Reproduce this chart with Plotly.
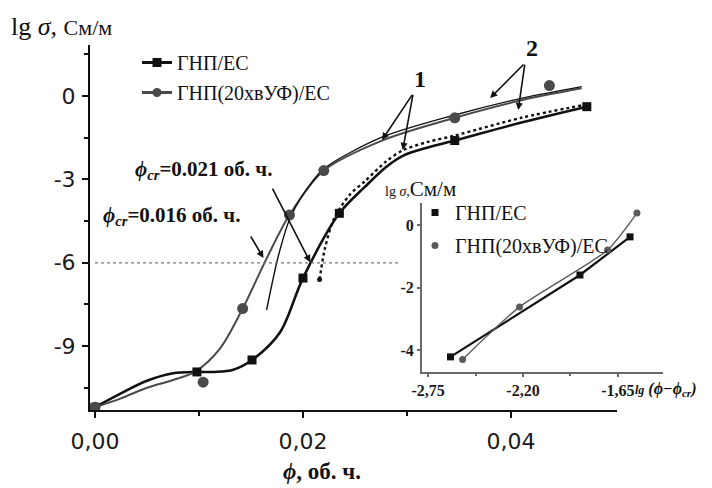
import plotly.graph_objects as go

W, H = 712, 488

# ---- main panel: lg(conductivity) vs filler volume fraction ----
# measured points, ГНП/ЕС
phi_gnp = [0.0, 0.0098, 0.0151, 0.0200, 0.0235, 0.0346, 0.0473]
lg_gnp = [-11.2, -9.93, -9.5, -6.55, -4.22, -1.6, -0.38]
# measured points, ГНП(20хвУФ)/ЕС
phi_uv = [0.0, 0.0104, 0.0142, 0.0187, 0.0220, 0.0346, 0.0437]
lg_uv = [-11.2, -10.3, -7.65, -4.28, -2.68, -0.78, 0.38]

# smoothed experimental curves
curve_gnp_x = [0.0, 0.0025, 0.005, 0.0075, 0.0098, 0.0115, 0.0133, 0.0151,
               0.0178, 0.0200, 0.0235, 0.0260, 0.0280, 0.0296, 0.0320, 0.0346, 0.0410, 0.0473]
curve_gnp_y = [-11.2, -10.7, -10.25, -9.98, -9.93, -9.93, -9.85, -9.5,
               -8.5, -6.55, -4.22, -3.25, -2.55, -2.15, -1.85, -1.6, -0.95, -0.38]
curve_uv_x = [0.0, 0.0025, 0.005, 0.0075, 0.0096, 0.0120, 0.0142, 0.0165,
              0.0187, 0.0220, 0.0276, 0.0346, 0.0410, 0.0468]
curve_uv_y = [-11.2, -10.88, -10.5, -10.22, -9.93, -9.1, -7.65, -5.85,
              -4.28, -2.68, -1.6, -0.78, -0.15, 0.28]

# percolation-law fits above the threshold
fit_uv_x = [0.0165, 0.0170, 0.0176, 0.0187, 0.0200, 0.0220, 0.0276, 0.0346, 0.0410, 0.0468]
fit_uv_y = [-7.7, -6.8, -5.8, -4.45, -3.55, -2.62, -1.48, -0.68, -0.08, 0.34]
fit_gnp_x = [0.0216, 0.0221, 0.0230, 0.0245, 0.0260, 0.0280, 0.0296, 0.0320, 0.0346, 0.0410, 0.0470]
fit_gnp_y = [-6.6, -5.5, -4.4, -3.55, -3.05, -2.35, -1.95, -1.65, -1.42, -0.78, -0.32]

threshold_level = -6
threshold_end = 0.0293

x_ticks = [0.0, 0.02, 0.04]
x_ticktext = ["0,00", "0,02", "0,04"]
x_minor = [0.01, 0.03]
y_ticks = [0, -3, -6, -9]
y_ticktext = ["0", "-3", "-6", "-9"]
y_minor = [1.5, -1.5, -4.5, -7.5, -10.5]

# ---- inset: lg(sigma) vs lg(phi - phi_cr) ----
ins_gnp_x = [-2.62, -1.87, -1.58]
ins_gnp_y = [-4.22, -1.6, -0.38]
ins_uv_x = [-2.55, -2.22, -1.71, -1.54]
ins_uv_y = [-4.3, -2.62, -0.8, 0.38]
ins_x_ticks = [-2.75, -2.20, -1.65]
ins_x_ticktext = ["-2,75", "-2,20", "-1,65"]
ins_y_ticks = [0, -2, -4]
ins_y_ticktext = ["0", "-2", "-4"]

names = ["ГНП/ЕС", "ГНП(20хвУФ)/ЕС"]
BLACK = "#111111"
GREY = "#4a4a4a"
SERIF = "Liberation Serif"


def px_x(p):
    return p / W


def px_y(p):
    return 1 - p / H


fig = go.Figure()

# experimental curves
fig.add_trace(go.Scatter(x=curve_gnp_x, y=curve_gnp_y, mode="lines",
                         line=dict(color=BLACK, width=2.6, shape="spline", smoothing=0.9),
                         showlegend=False, hoverinfo="skip"))
fig.add_trace(go.Scatter(x=curve_uv_x, y=curve_uv_y, mode="lines",
                         line=dict(color=GREY, width=2.0, shape="spline", smoothing=0.9),
                         showlegend=False, hoverinfo="skip"))
# fits
fig.add_trace(go.Scatter(x=fit_uv_x, y=fit_uv_y, mode="lines",
                         line=dict(color=BLACK, width=1.4, shape="spline", smoothing=0.8),
                         showlegend=False, hoverinfo="skip"))
fig.add_trace(go.Scatter(x=fit_gnp_x, y=fit_gnp_y, mode="lines",
                         line=dict(color=BLACK, width=2.4, dash="dot", shape="spline", smoothing=0.8),
                         showlegend=False, hoverinfo="skip"))
fig.add_trace(go.Scatter(x=fit_gnp_x[:1], y=fit_gnp_y[:1], mode="markers",
                         marker=dict(color=BLACK, size=5, symbol="circle"),
                         showlegend=False, hoverinfo="skip"))

# measured points
fig.add_trace(go.Scatter(x=phi_gnp, y=lg_gnp, mode="markers",
                         marker=dict(color=BLACK, size=9, symbol="square"),
                         showlegend=False))
fig.add_trace(go.Scatter(x=phi_uv, y=lg_uv, mode="markers",
                         marker=dict(color=GREY, size=11, symbol="circle"),
                         showlegend=False))

# legend entries for the main panel
fig.add_trace(go.Scatter(x=[None], y=[None], mode="lines+markers", name=names[0],
                         line=dict(color=BLACK, width=3),
                         marker=dict(color=BLACK, size=9, symbol="square"),
                         legend="legend", legendgroup="m1"))
fig.add_trace(go.Scatter(x=[None], y=[None], mode="lines+markers", name=names[1],
                         line=dict(color=GREY, width=3),
                         marker=dict(color=GREY, size=9, symbol="circle"),
                         legend="legend", legendgroup="m2"))

# inset traces
fig.add_trace(go.Scatter(x=ins_gnp_x, y=ins_gnp_y, mode="lines",
                         line=dict(color=BLACK, width=2.2),
                         xaxis="x2", yaxis="y2", showlegend=False, hoverinfo="skip"))
fig.add_trace(go.Scatter(x=ins_uv_x, y=ins_uv_y, mode="lines",
                         line=dict(color="#5a5a5a", width=1.4, shape="spline", smoothing=0.6),
                         xaxis="x2", yaxis="y2", showlegend=False, hoverinfo="skip"))
fig.add_trace(go.Scatter(x=ins_gnp_x, y=ins_gnp_y, mode="markers", name=names[0],
                         marker=dict(color=BLACK, size=7, symbol="square"),
                         xaxis="x2", yaxis="y2", legend="legend2", legendgroup="i1"))
fig.add_trace(go.Scatter(x=ins_uv_x, y=ins_uv_y, mode="markers", name=names[1],
                         marker=dict(color="#5a5a5a", size=7, symbol="circle"),
                         xaxis="x2", yaxis="y2", legend="legend2", legendgroup="i2"))

# percolation level
fig.add_shape(type="line", xref="x", yref="y", x0=0, x1=threshold_end,
              y0=threshold_level, y1=threshold_level,
              line=dict(color="#777777", width=1.2, dash="dot"))

tick_main = dict(family="DejaVu Sans", size=22, color="#1a1a1a")
tick_ins = dict(family=SERIF, size=16, color="#1a1a1a", weight="bold")

fig.update_layout(
    width=W, height=H,
    margin=dict(l=0, r=0, t=0, b=0),
    paper_bgcolor="white", plot_bgcolor="white",
    xaxis=dict(domain=[px_x(90), px_x(617)], range=[-0.00048, 0.0502], anchor="y",
               showline=True, linewidth=2, linecolor=BLACK, mirror=False,
               ticks="outside", ticklen=6, tickwidth=2, tickcolor=BLACK,
               tickvals=x_ticks, ticktext=x_ticktext, tickfont=tick_main,
               ticklabelstandoff=5,
               minor=dict(tickvals=x_minor, ticks="outside", ticklen=4, tickwidth=2, tickcolor=BLACK),
               showgrid=False, zeroline=False, automargin=False),
    yaxis=dict(domain=[px_y(410), px_y(45)], range=[-11.3, 1.84], anchor="x",
               showline=True, linewidth=2, linecolor=BLACK,
               ticks="outside", ticklen=6, tickwidth=2, tickcolor=BLACK,
               tickvals=y_ticks, ticktext=y_ticktext, tickfont=tick_main,
               ticklabelstandoff=2,
               minor=dict(tickvals=y_minor, ticks="outside", ticklen=4, tickwidth=2, tickcolor=BLACK),
               showgrid=False, zeroline=False, automargin=False),
    xaxis2=dict(domain=[px_x(422), px_x(663)], range=[-2.785, -1.389], anchor="y2",
                showline=True, linewidth=2, linecolor="#6a6a6a",
                ticks="outside", ticklen=3, tickwidth=1.5, tickcolor="#6a6a6a",
                tickvals=ins_x_ticks, ticktext=ins_x_ticktext, tickfont=tick_ins,
                ticklabelstandoff=0,
                minor=dict(tickvals=[-2.475, -1.925], ticks="outside", ticklen=2, tickcolor="#6a6a6a"),
                showgrid=False, zeroline=False, automargin=False),
    yaxis2=dict(domain=[px_y(372), px_y(203)], range=[-4.704, 0.704], anchor="x2",
                showline=True, linewidth=2, linecolor="#6a6a6a",
                ticks="outside", ticklen=3, tickwidth=1.5, tickcolor="#6a6a6a",
                tickvals=ins_y_ticks, ticktext=ins_y_ticktext, tickfont=tick_ins,
                showgrid=False, zeroline=False, automargin=False),
    legend=dict(x=px_x(137), y=px_y(43), xanchor="left", yanchor="top",
                bgcolor="rgba(0,0,0,0)", borderwidth=0, traceorder="grouped",
                tracegroupgap=1, font=dict(family=SERIF, size=20, color=BLACK)),
    legend2=dict(x=px_x(415), y=px_y(193), xanchor="left", yanchor="top",
                 bgcolor="rgba(0,0,0,0)", borderwidth=0, traceorder="grouped",
                 tracegroupgap=4, font=dict(family=SERIF, size=20, color=BLACK)),
    showlegend=True,
)

ann = []
# axis titles
ann.append(dict(xref="paper", yref="paper", x=px_x(9), y=px_y(26), xanchor="left", yanchor="middle",
                text="lg <i>σ</i>, <span style='font-size:22px'>См/м</span>",
                showarrow=False, font=dict(family=SERIF, size=26, color=BLACK)))
ann.append(dict(xref="paper", yref="paper", x=px_x(322), y=px_y(471), xanchor="center", yanchor="middle",
                text="<i>ϕ</i>, об. ч.", showarrow=False,
                font=dict(family=SERIF, size=23, color=BLACK, weight="bold")))
ann.append(dict(xref="paper", yref="paper", x=px_x(420), y=px_y(189), xanchor="center", yanchor="middle",
                text="<span style='font-size:14px'>lg <i>σ</i>,</span>См/м", showarrow=False,
                font=dict(family=SERIF, size=21, color=BLACK)))
ann.append(dict(xref="paper", yref="paper", x=px_x(633), y=px_y(389), xanchor="left", yanchor="middle",
                text="<i><span style='font-size:12px'>lg</span> (ϕ−ϕ<sub>cr</sub>)</i>", showarrow=False,
                font=dict(family=SERIF, size=16, color=BLACK, weight="bold")))
# threshold labels
ann.append(dict(xref="paper", yref="paper", x=px_x(203), y=px_y(170), xanchor="center", yanchor="middle",
                text="<i>ϕ</i><sub><i>cr</i></sub>=0.021 об. ч.", showarrow=False,
                font=dict(family=SERIF, size=21, color=BLACK, weight="bold")))
ann.append(dict(xref="paper", yref="paper", x=px_x(171), y=px_y(216), xanchor="center", yanchor="middle",
                text="<i>ϕ</i><sub><i>cr</i></sub>=0.016 об. ч.", showarrow=False,
                font=dict(family=SERIF, size=21, color=BLACK, weight="bold")))
# curve labels
ann.append(dict(xref="paper", yref="paper", x=px_x(420), y=px_y(79), xanchor="center", yanchor="middle",
                text="1", showarrow=False, font=dict(family=SERIF, size=24, color=BLACK, weight="bold")))
ann.append(dict(xref="paper", yref="paper", x=px_x(532), y=px_y(48), xanchor="center", yanchor="middle",
                text="2", showarrow=False, font=dict(family=SERIF, size=24, color=BLACK, weight="bold")))

arrows = [
    ((0.0207, -5.98), (0.0170, -3.28)),
    ((0.0162, -5.83), (0.0149, -5.00)),
    ((0.0276, -1.58), (0.0306, 0.10)),
    ((0.0296, -1.94), (0.0306, 0.10)),
    ((0.0380, -0.07), (0.04135, 1.19)),
    ((0.0407, -0.50), (0.04135, 1.19)),
]
for (hx, hy), (tx, ty) in arrows:
    ann.append(dict(xref="x", yref="y", axref="x", ayref="y", x=hx, y=hy, ax=tx, ay=ty,
                    text="", showarrow=True, arrowhead=2, arrowsize=0.9, arrowwidth=1.6,
                    arrowcolor=BLACK))

fig.update_layout(annotations=ann)

fig.write_html("out.html")
